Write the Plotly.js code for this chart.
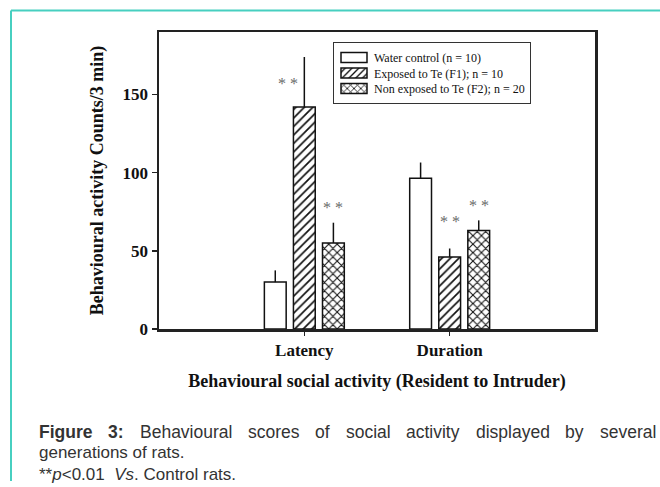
<!DOCTYPE html>
<html>
<head>
<meta charset="utf-8">
<script src="https://cdn.plot.ly/plotly-3.0.1.min.js"></script>
<style>
  html, body { margin: 0; padding: 0; background: #ffffff; }
  #chart { width: 660px; height: 487px; }
</style>
</head>
<body>
<div id="chart"></div>
<script>
// ---------------- data ----------------
const categories = ['Latency', 'Duration'];
const seriesNames = ['Water control (n = 10)', 'Exposed to Te (F1); n = 10', 'Non exposed to Te (F2); n = 20'];
const waterControl = [30, 96.5];
const waterControlErr = [7.5, 10];
const exposedF1 = [142, 46];
const exposedF1Err = [32, 5.5];
const nonExposedF2 = [55, 63];
const nonExposedF2Err = [13, 6.5];
const yTickVals = [0, 50, 100, 150];
const yTickText = ['0', '50', '100', '150'];
const sigText = '* *';
const sigCategoryIndex = [0, 0, 1, 1];
const sigSeriesIndex = [1, 2, 1, 2];
const sigY = [157, 78, 68.5, 79];
const xTitle = 'Behavioural social activity (Resident to Intruder)';
const yTitle = 'Behavioural activity Counts/3 min)';
const captionLine1Bold = ['Figure', '3:'];
const captionLine1 = ['Behavioural', 'scores', 'of', 'social', 'activity', 'displayed', 'by', 'several'];
const captionLine2 = 'generations of rats.';
const captionLine3 = '**<i>p</i>&lt;0.01  <i>Vs</i>. Control rats.';

// ---------------- geometry helpers ----------------
const W = 660, H = 487;
const M = { l: 159, r: 65, t: 32, b: 158 };
const PW = W - M.l - M.r, PH = H - M.t - M.b;
const px2x = p => (p - M.l) / PW;
const px2y = p => (H - M.b - p) / PH;

const serif = 'Liberation Serif, Times New Roman, serif';
const sans = 'Liberation Sans, Arial, sans-serif';

function barTrace(name, vals, errs, pattern) {
  return {
    type: 'bar',
    name: name,
    x: categories,
    y: vals,
    error_y: { type: 'data', symmetric: false, array: errs, arrayminus: errs.map(() => 0),
               color: '#111', thickness: 1.5, width: 0 },
    marker: {
      color: '#ffffff',
      line: { color: '#111', width: 1.5 },
      pattern: pattern
    }
  };
}

const traces = [
  barTrace(seriesNames[0], waterControl, waterControlErr, { shape: '' }),
  barTrace(seriesNames[1], exposedF1, exposedF1Err, { shape: '/', fgcolor: '#111', bgcolor: '#ffffff', size: 6, solidity: 0.28 }),
  barTrace(seriesNames[2], nonExposedF2, nonExposedF2Err, { shape: 'x', fgcolor: '#111', bgcolor: '#ffffff', size: 6, solidity: 0.32 })
];

// significance markers
const annotations = sigY.map((yv, i) => ({
  xref: 'x', yref: 'y',
  x: sigCategoryIndex[i] + (sigSeriesIndex[i] - 1) * 0.2 - (i === 0 ? 0.11 : 0),
  y: yv,
  text: sigText, showarrow: false,
  xanchor: 'center', yanchor: 'middle',
  font: { family: serif, size: 16, color: '#6a6a6a' }
}));

// caption (justified first line)
const ctx = document.createElement('canvas').getContext('2d');
const capSize = 17;
const cap1Size = 17.5;
function measure(t, bold, size) {
  ctx.font = (bold ? 'bold ' : '') + size + 'px "Liberation Sans"';
  return ctx.measureText(t).width;
}
const words = captionLine1Bold.map(w => ({ t: w, b: true })).concat(captionLine1.map(w => ({ t: w, b: false })));
const left = 37, right = 654;
const total = words.reduce((s, w) => s + measure(w.t, w.b, cap1Size), 0);
const gap = (right - left - total) / (words.length - 1);
let cx = left;
words.forEach(w => {
  annotations.push({
    xref: 'paper', yref: 'paper', x: px2x(cx), y: px2y(432),
    xanchor: 'left', yanchor: 'middle', showarrow: false,
    text: w.b ? '<b>' + w.t + '</b>' : w.t,
    font: { family: sans, size: cap1Size, color: '#333' }
  });
  cx += measure(w.t, w.b, cap1Size) + gap;
});
annotations.push({
  xref: 'paper', yref: 'paper', x: px2x(left), y: px2y(453),
  xanchor: 'left', yanchor: 'middle', showarrow: false,
  text: captionLine2, font: { family: sans, size: capSize, color: '#333' }
});
annotations.push({
  xref: 'paper', yref: 'paper', x: px2x(left), y: px2y(474),
  xanchor: 'left', yanchor: 'middle', showarrow: false,
  text: captionLine3, font: { family: sans, size: capSize, color: '#333' }
});

const teal = '#47cfc0';
const shapes = [
  { type: 'line', xref: 'paper', yref: 'paper', x0: px2x(11), x1: px2x(660), y0: px2y(10.5), y1: px2y(10.5),
    line: { color: teal, width: 2 } },
  { type: 'line', xref: 'paper', yref: 'paper', x0: px2x(11), x1: px2x(11), y0: px2y(10.5), y1: px2y(481),
    line: { color: teal, width: 2 } }
];

const layout = {
  width: W, height: H,
  margin: { l: M.l, r: M.r, t: M.t, b: M.b, pad: 0 },
  paper_bgcolor: '#ffffff', plot_bgcolor: '#ffffff',
  barmode: 'group', bargap: 0.4, bargroupgap: 0.25,
  showlegend: true,
  legend: {
    x: px2x(333), y: px2y(42), xanchor: 'left', yanchor: 'top',
    bgcolor: '#ffffff', bordercolor: '#333', borderwidth: 1,
    font: { family: serif, size: 12, color: '#111' },
    tracegroupgap: 0
  },
  xaxis: {
    type: 'category', range: [-1, 2],
    showline: true, mirror: true, linecolor: '#222', linewidth: 2.5,
    ticks: 'outside', ticklen: 4, tickwidth: 1.5, tickcolor: '#222',
    showgrid: false, zeroline: false,
    tickfont: { family: serif, size: 17, color: '#111', weight: 'bold' },
    title: { text: '<b>' + xTitle + '</b>', font: { family: serif, size: 18, color: '#111' }, standoff: 16 }
  },
  yaxis: {
    range: [0, 190], tickvals: yTickVals, ticktext: yTickText,
    showline: true, mirror: true, linecolor: '#222', linewidth: 2.5,
    ticks: 'outside', ticklen: 5, tickwidth: 1.5, tickcolor: '#222',
    showgrid: false, zeroline: false,
    tickfont: { family: serif, size: 17, color: '#111', weight: 'bold' },
    title: { text: '<b>' + yTitle + '</b>', font: { family: serif, size: 18, color: '#111' }, standoff: 15 }
  },
  annotations: annotations,
  shapes: shapes,
  hovermode: false
};

Plotly.newPlot('chart', traces, layout, { staticPlot: true, displayModeBar: false }).then(gd => {
  // widen legend swatches to match the reference's rectangular keys
  gd.querySelectorAll('.legend .legendpoints path').forEach(p => {
    p.setAttribute('d', 'M13,5H-13V-5H13Z');
  });
  // tighten legend row spacing to the reference's compact layout
  const items = Array.from(gd.querySelectorAll('.legend .traces'));
  const parse = el => {
    const m = /translate\(\s*([-\d.]+)[ ,]+([-\d.]+)\s*\)/.exec(el.getAttribute('transform') || '');
    return m ? [parseFloat(m[1]), parseFloat(m[2])] : null;
  };
  const pos = items.map(parse);
  if (pos.length && pos.every(p => p)) {
    const step = 15.5;
    const y0 = pos[0][1];
    const oldLast = pos[pos.length - 1][1];
    items.forEach((el, i) => el.setAttribute('transform', 'translate(' + pos[i][0] + ',' + (y0 + i * step) + ')'));
    const shrink = oldLast - (y0 + (items.length - 1) * step);
    const bg = gd.querySelector('.legend rect.bg');
    if (bg) bg.setAttribute('height', parseFloat(bg.getAttribute('height')) - shrink);
  }
});
</script>
</body>
</html>
